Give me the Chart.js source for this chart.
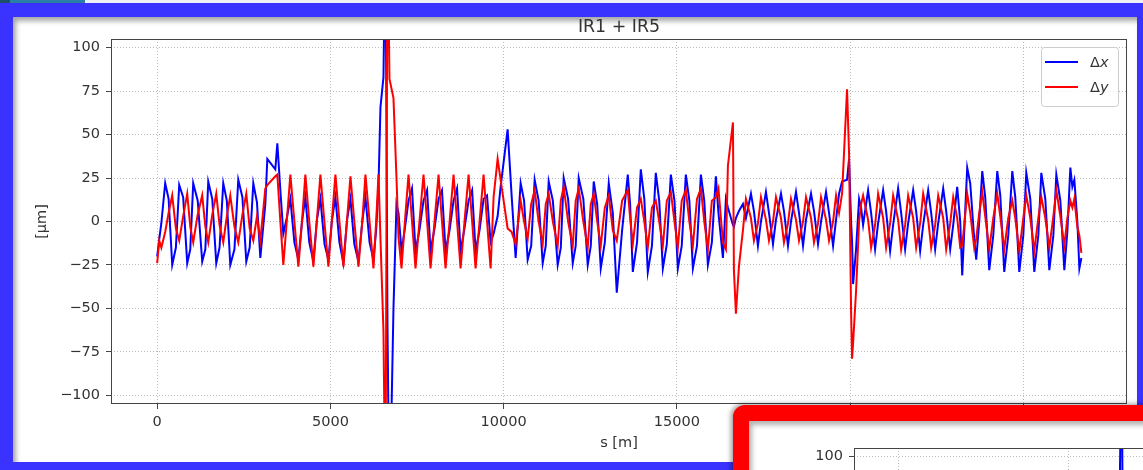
<!DOCTYPE html>
<html lang="en">
<head>
<meta charset="UTF-8">
<title>IR1 + IR5</title>
<script src="https://cdn.jsdelivr.net/npm/chart.js"></script>
<style>
    html, body { margin: 0; padding: 0; }
    body {
        width: 1143px; height: 470px; overflow: hidden; position: relative;
        background: #eef0f5; font-family: 'DejaVu Sans', sans-serif;
    }
    .tab { position: absolute; left: 0; top: 0; width: 85px; height: 3px; background: #2b7fa6; }
    .tab::before { content: ''; position: absolute; left: 0; top: 0; width: 10px; height: 3px; background: #1d4f6e; }
    .frame {
        position: absolute; left: 0; top: 3px; width: 1150px; height: 472px;
        box-sizing: border-box; border: 13px solid #3a32ff; border-top-width: 14px;
        background: #fff; box-shadow: inset 3px 4px 5px rgba(0, 0, 0, 0.35);
    }
    #main { position: absolute; left: 0; top: 0; z-index: 1; }
    .inset {
        position: absolute; left: 733px; top: 405px; width: 520px; height: 520px; z-index: 2;
        box-sizing: border-box; border: 16px solid #ff0000; border-radius: 12px 0 0 0;
        background: #fff; overflow: hidden;
        box-shadow: -2px -1px 5px rgba(0, 0, 0, 0.4), inset 3px 4px 5px rgba(0, 0, 0, 0.3);
    }
    #mini { position: absolute; left: 0; top: 0; }
</style>
</head>
<body>
<div class="tab"></div>
<div class="frame"></div>
<canvas id="main" width="1143" height="470"></canvas>
<div class="inset"><canvas id="mini" width="400" height="457"></canvas></div>

<script>
// position along the ring [m]
const sPos = [
    0, 60, 120, 231, 330, 434, 540, 636, 750, 867, 955, 1040, 1170, 1300, 1390, 1474, 1590, 1705, 1800, 1907,
    2010, 2110, 2230, 2341, 2460, 2572, 2670, 2774, 2880, 2977,
    3121, 3179, 3410, 3468, 3555, 3641,
    3740, 3844, 3960, 4075, 4180, 4277, 4390, 4508, 4610, 4711, 4830, 4942, 5040, 5144, 5260, 5375, 5480, 5578,
    5690, 5809, 5920, 6011, 6130, 6242, 6320, 6387,
    6445, 6531, 6589, 6647, 6705, 6820, 6907, 6965, 7052,
    7150, 7254, 7355, 7456, 7570, 7687, 7790, 7890, 8005, 8121, 8220, 8323, 8440, 8554, 8655, 8757, 8870, 8988,
    9090, 9190, 9305, 9421, 9520, 9624,
    9710, 9826, 9913, 10115, 10230, 10346,
    10491, 10590, 10693, 10795, 10895, 11010, 11127, 11215, 11300, 11420, 11560, 11650, 11733, 11860, 11994,
    12080, 12167, 12300, 12427, 12515, 12600, 12700, 12803, 12920, 13034, 13150, 13265, 13420, 13583, 13650,
    13728, 13850, 13959, 14060, 14161, 14280, 14392, 14490, 14595, 14710, 14826, 14930, 15028, 15140, 15259,
    15360, 15462, 15580, 15693, 15790, 15895, 16010, 16126,
    16200, 16329, 16415, 16473, 16618, 16646, 16704, 16791, 16907,
    16993, 17138, 17224, 17340, 17427, 17571, 17658, 17774, 17860, 18005, 18091, 18207, 18294, 18438, 18525,
    18641, 18727, 18872, 18958, 19074, 19161, 19305, 19392, 19508, 19594,
    19681, 19768, 19912, 19970, 20028, 20057, 20086, 20172, 20259, 20317,
    20375, 20519, 20606, 20721, 20808, 20953, 21039, 21155, 21242, 21386, 21473, 21588, 21675, 21820, 21906,
    22022, 22109, 22253, 22340, 22455, 22542, 22687, 22773, 22889, 22976, 23091, 23178,
    23236, 23380, 23467, 23582, 23640, 23727, 23814, 23900, 24016, 24132, 24247, 24334, 24449, 24565, 24681,
    24767, 24883, 24999, 25085, 25201, 25316, 25432, 25519, 25634, 25750, 25866, 25952, 26068, 26183, 26270,
    26357, 26415, 26472, 26559, 26617, 26675
];

// horizontal orbit difference [um]
const dx = [
    -20, -10, -1, 22, 13, -25, -15, 21, 14, -24, -16, 22, 12, -23, -16, 23, 13, -24, -15, 22,
    12, -25, -16, 24, 14, -23, -15, 22, 11, -21,
    10, 36, 30, 45, 18, -7,
    2, 13, -12, -22, 0, 14, -12, -23, 1, 13, -13, -22, 0, 14, -12, -24, 1, 13,
    -13, -23, 0, 14, -12, -22, -5, 20,
    66, 83, 170, -60, -170, -50, 10, 5, -17,
    -4, 12, 19, -17, -5, 12, 18, -17, -4, 13, 18, -17, -5, 12, 19, -17, -4, 12,
    18, -17, -5, 13, 15, -12,
    -7, 3, 20, 53, 15, -21,
    22, 12, -22, -14, 24, 12, -24, -14, 23, 12, -25, -15, 25, 13, -24,
    -14, 25, 13, -25, -14, 23, 10, -27, -12, 22, 5, -41, -5, 27, 10,
    -29, -12, 30, 13, -29, -14, 28, 12, -27, -13, 27, 12, -27, -14, 27,
    12, -27, -14, 27, 12, -25, -12, 26,
    5, -21, 13, 8, -2, -3, 2, 6, 10,
    2, 16, 6, -14, 0, 17, 5, -13, 1, 16, 6, -14, 0, 17, 5,
    -14, 1, 16, 6, -13, 0, 17, 5, -14, 1,
    16, 23, 24, 36, 0, -12, -36, -16, 13, 8,
    -2, 18, 5, -16, -1, 18, 6, -17, -2, 19, 5, -16, -1, 18, 6,
    -17, -2, 18, 5, -16, -1, 19, 6, -16, -2, 20, 0,
    -31, 31, 22, -10, -22, 0, 29, 14, -28, -8, 29, 15, -29, -8, 29,
    14, -29, -8, 28, 13, -29, -8, 28, 13, -28, -8, 27, 12, -28, -6,
    31, 20, 24, 0, -27, -21
];

// vertical orbit difference [um]
const dy = [
    -24, -11, -15, -6, 5, 15, -4, -11, 3, 16, -3, -12, 4, 15, -3, -12, 4, 16, -2, -12,
    3, 15, -3, -12, 4, 16, -4, -11, 3, -11,
    19, 21, 26, 27, 0, -25,
    0, 27, 0, -26, 0, 27, 0, -26, 1, 27, -1, -26, 0, 27, 0, -26, 1, 26,
    0, -26, 0, 27, 0, -27, 0, 27,
    -10, -63, -170, 170, 82, 71, 25, -9, -27,
    0, 27, 0, -27, 0, 27, 0, -27, 0, 27, 0, -27, 0, 27, 0, -27, 0, 27,
    0, -27, 0, 27, 0, -27,
    14, 36, 24, -4, -6, -13,
    12, 0, -10, 10, 18, 0, -13, 10, 16, 0, -14, 12, 20, 0, -14,
    12, 19, 0, -15, 10, 16, 0, -14, 8, 15, -5, -11, 12, 18, 2,
    -13, 8, 13, 0, -15, 8, 12, 0, -14, 12, 17, 0, -15, 12, 18,
    0, -14, 13, 19, 0, -16, 12, 14,
    19, -12, -16, 32, 57, -28, -53, -26, -5,
    13, 2, -11, -1, 14, 1, -11, 0, 14, 2, -12, -1, 13, 1, -11,
    0, 14, 2, -12, -1, 14, 1, -11, 0, 15,
    5, 16, 76, 39, -51, -79, -70, -40, 0, 10,
    15, 1, -15, -2, 16, 2, -15, -1, 15, 1, -16, -2, 15, 2, -15,
    -1, 16, 1, -15, -2, 15, 2, -16, -1, 14, 2, -15,
    -14, 16, 5, -15, -10, 5, 17, 3, -16, 2, 16, 3, -16, 2, 12,
    2, -17, 2, 15, 2, -17, 2, 14, 2, -15, 3, 18, 3, -14, 2,
    12, 8, 13, -3, -8, -18
];

const plotTitle = 'IR1 + IR5';
const xTitle = 's [m]';
const yTitle = '[µm]';
const xTicks = [0, 5000, 10000, 15000, 20000, 25000];
const yTicks = [-100, -75, -50, -25, 0, 25, 50, 75, 100];
const xRange = [-1333, 27992];
const yRange = [-105, 105];
const miniXRange = [-1331, 7396];

const FONT = 'DejaVu Sans';
const ink = '#333333';
const gridColor = 'rgba(176, 176, 176, 0.85)';

const fmt = v => String(v).replace('-', '\u2212');
const fixedWidth = w => scale => { scale.width = w; };
const fixedHeight = h => scale => { scale.height = h; };
const useTicks = values => scale => { scale.ticks = values.map(v => ({ value: v })); };

// matplotlib-like box around the axes
const spines = {
    id: 'spines',
    afterDatasetsDraw(chart) {
        const { ctx, chartArea: a } = chart;
        ctx.save();
        ctx.strokeStyle = '#444';
        ctx.lineWidth = 1;
        ctx.strokeRect(Math.round(a.left) + 0.5, Math.round(a.top) + 0.5,
            Math.round(a.width) - 1, Math.round(a.height) - 1);
        ctx.restore();
    }
};

const titleAndLegend = {
    id: 'titleAndLegend',
    afterDraw(chart) {
        const { ctx, chartArea: a } = chart;
        ctx.save();
        ctx.fillStyle = ink;
        ctx.font = `17.4px "${FONT}"`;
        ctx.textAlign = 'center';
        ctx.textBaseline = 'alphabetic';
        ctx.fillText(plotTitle, (a.left + a.right) / 2, a.top - 7);

        const bx = Math.round(a.right) - 86, by = Math.round(a.top) + 8;
        ctx.beginPath();
        ctx.roundRect(bx + 0.5, by + 0.5, 77, 59, 3);
        ctx.fillStyle = 'rgba(255, 255, 255, 0.8)';
        ctx.fill();
        ctx.strokeStyle = '#cccccc';
        ctx.lineWidth = 1;
        ctx.stroke();

        chart.data.datasets.forEach((ds, i) => {
            const ly = by + 15 + i * 25;
            ctx.strokeStyle = ds.borderColor;
            ctx.lineWidth = 2;
            ctx.beginPath();
            ctx.moveTo(bx + 4, ly);
            ctx.lineTo(bx + 37, ly);
            ctx.stroke();
            ctx.fillStyle = ink;
            ctx.textAlign = 'left';
            ctx.font = `14.5px "${FONT}"`;
            ctx.fillText(ds.label[0], bx + 49, ly + 5);
            const w = ctx.measureText(ds.label[0]).width;
            ctx.font = `italic 14.5px "${FONT}"`;
            ctx.fillText(ds.label.slice(1), bx + 49 + w, ly + 5);
        });
        ctx.restore();
    }
};

function axis(range, ticks, pad, extra) {
    return Object.assign({
        type: 'linear',
        min: range[0],
        max: range[1],
        afterBuildTicks: useTicks(ticks),
        grid: {
            color: gridColor, lineWidth: 1, borderDash: [1, 2],
            tickColor: '#444', tickLength: 5, tickWidth: 1, tickBorderDash: []
        },
        border: { display: false, dash: [1, 2] },
        ticks: {
            color: ink, font: { family: FONT, size: 14.5 }, padding: pad,
            maxRotation: 0, autoSkip: false, includeBounds: false,
            callback: v => fmt(v)
        }
    }, extra);
}

function series(values, label, color, order) {
    return {
        label: label,
        data: sPos.map((s, i) => ({ x: s, y: values[i] })),
        borderColor: color,
        backgroundColor: color,
        borderWidth: 2,
        pointRadius: 0,
        tension: 0,
        order: order
    };
}

new Chart(document.getElementById('main'), {
    type: 'line',
    data: {
        datasets: [
            series(dx, 'Δx', '#0000ff', 1),
            series(dy, 'Δy', '#ff0000', 0)
        ]
    },
    options: {
        responsive: false,
        animation: false,
        events: [],
        layout: { padding: { top: 39, right: 16, left: 0, bottom: 0 } },
        plugins: { legend: { display: false }, tooltip: { enabled: false }, title: { display: false } },
        scales: {
            x: axis(xRange, xTicks, 5, {
                afterFit: fixedHeight(66),
                title: { display: true, text: xTitle, color: ink, font: { family: FONT, size: 14.5 },
                    padding: { top: 0, bottom: 18.3 } }
            }),
            y: axis(yRange, yTicks, 6, {
                afterFit: fixedWidth(111),
                title: { display: true, text: yTitle, color: ink, font: { family: FONT, size: 14.5 },
                    padding: { top: 33.3, bottom: 0 } }
            })
        }
    },
    plugins: [spines, titleAndLegend]
});

// second figure peeking in from the lower right
new Chart(document.getElementById('mini'), {
    type: 'line',
    data: { datasets: [series(dx, 'Δx', '#0000ff', 0)] },
    options: {
        responsive: false,
        animation: false,
        events: [],
        layout: { padding: { top: 27, right: 0, left: 0, bottom: 0 } },
        plugins: { legend: { display: false }, tooltip: { enabled: false } },
        scales: {
            x: axis(miniXRange, [0, 5000], 5, { afterFit: fixedHeight(66) }),
            y: axis(yRange, yTicks, 6, { afterFit: fixedWidth(105) })
        }
    },
    plugins: [spines]
});
</script>
</body>
</html>
